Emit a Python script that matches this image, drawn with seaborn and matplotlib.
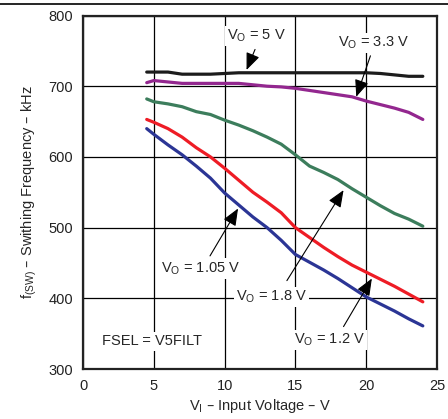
import matplotlib
matplotlib.use("Agg")
import matplotlib.pyplot as plt
from matplotlib.lines import Line2D
import numpy as np
import pandas as pd
import seaborn as sns

# Input voltage sweep (V)
vin = [4.5, 5, 6, 7, 8, 9, 10, 11, 12, 13, 14, 15, 16, 17, 18, 19, 20, 21, 22, 23, 24]

# Switching frequency (kHz) per output voltage
f_5v0 = [720, 720, 720, 717, 717, 717, 718, 719, 719, 719, 719, 719, 719, 719, 719, 719, 719, 718, 716, 714, 714]
f_3v3 = [705, 708, 706, 704, 704, 704, 704, 704, 702, 700, 699, 697, 694, 691, 688, 685, 679, 674, 669, 663, 653]
f_1v8 = [682, 678, 675, 671, 664, 660, 652, 645, 637, 628, 618, 603, 587, 578, 568, 555, 543, 531, 520, 512, 502]
f_1v2 = [653, 649, 640, 628, 613, 600, 584, 567, 550, 536, 521, 500, 486, 472, 459, 447, 437, 427, 417, 406, 395]
f_1v05 = [640, 632, 617, 603, 587, 570, 549, 532, 515, 500, 482, 462, 451, 440, 428, 415, 402, 392, 382, 371, 361]

series = ["5 V", "3.3 V", "1.8 V", "1.2 V", "1.05 V"]
values = [f_5v0, f_3v3, f_1v8, f_1v2, f_1v05]
colors = ["#1c1c1c", "#93278f", "#3c7d5c", "#ee1c25", "#2b3595"]

x_ticks = [0, 5, 10, 15, 20, 25]
y_ticks = [300, 400, 500, 600, 700, 800]

df = pd.DataFrame({
    "vin": np.tile(vin, len(series)),
    "freq": np.concatenate(values),
    "vout": np.repeat(series, len(vin)),
})

sns.set_style("white")
plt.rcParams["font.family"] = ["Liberation Sans", "DejaVu Sans"]
plt.rcParams["mathtext.default"] = "regular"

fig = plt.figure(figsize=(4.48, 4.19), dpi=100)
ax = fig.add_axes([0.1853, 0.1193, 0.7901, 0.8437])

sns.lineplot(data=df, x="vin", y="freq", hue="vout", hue_order=series,
             palette=colors, linewidth=2.3, legend=False, ax=ax, zorder=3)

ax.set_xlim(0, 25)
ax.set_ylim(300, 800)
ax.set_xticks(x_ticks)
ax.set_yticks(y_ticks)
ax.tick_params(axis="both", length=0, pad=7, labelsize=10.5, colors="#222222")
ax.grid(True, color="black", linewidth=0.9, zorder=1)
ax.set_axisbelow(True)
for side, sp in ax.spines.items():
    sp.set_color("#222222")
    sp.set_linewidth(1.6)

ax.set_xlabel("V$_I$ – Input Voltage – V", fontsize=10.5, labelpad=3)
ax.set_ylabel("f$_{(SW)}$ – Swithing Frequency – kHz", fontsize=10.5, labelpad=7)

box = dict(boxstyle="square,pad=0.15", fc="white", ec="none")
arrow = dict(arrowstyle="-|>,head_length=0.8,head_width=0.33", color="black",
             lw=0.8, mutation_scale=13, shrinkA=0, shrinkB=0)

labels = [
    ("V$_O$ = 5 V", (12.25, 771), (12.15, 752), (11.55, 723)),
    ("V$_O$ = 3.3 V", (20.55, 761), (20.3, 743), (19.3, 685)),
    ("V$_O$ = 1.05 V", (8.3, 442), (8.97, 460), (10.95, 527)),
    ("V$_O$ = 1.8 V", (13.3, 402), (14.4, 425), (18.4, 553)),
    ("V$_O$ = 1.2 V", (17.4, 341), (18.4, 360), (20.4, 428)),
]
for text, tpos, tail, tip in labels:
    ax.text(*tpos, text, ha="center", va="center", fontsize=10.5,
            bbox=box, zorder=4)
    ax.annotate("", xy=tip, xytext=tail, arrowprops=arrow, zorder=5)

ax.text(4.9, 339, "FSEL = V5FILT", ha="center", va="center", fontsize=10.5,
        bbox=box, zorder=4)

# rule across the top of the page
fig.add_artist(Line2D([0, 1], [1 - 4 / 419, 1 - 4 / 419], transform=fig.transFigure,
                      color="black", linewidth=1.2))

fig.savefig("out.png", dpi=100)
